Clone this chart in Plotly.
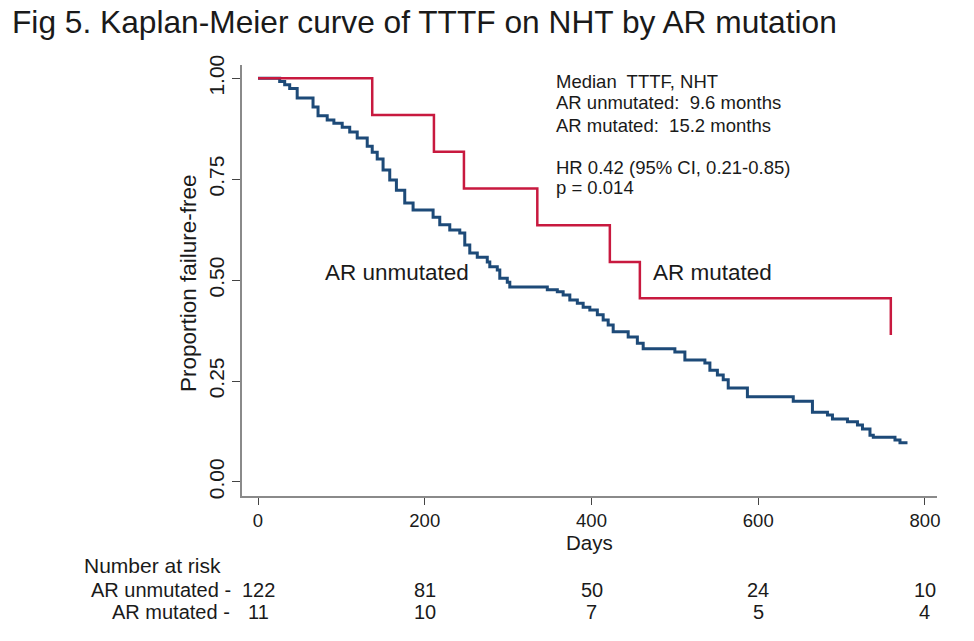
import plotly.graph_objects as go

# ---------------- data ----------------
unmut_days = [0, 26, 32, 38, 47, 66, 72, 83, 91, 101, 110, 119, 131, 137, 143, 150, 158, 166,
              176, 186, 210, 218, 230, 242, 248, 254, 263, 275, 278, 287, 290, 299, 302, 347,
              359, 366, 374, 383, 390, 398, 407, 414, 420, 426, 444, 455, 462, 500, 512, 536,
              542, 551, 558, 564, 587, 642, 665, 683, 689, 707, 719, 725, 734, 738, 764, 770, 779]
unmut_surv = [1.0, 0.992, 0.984, 0.975, 0.951, 0.929, 0.907, 0.897, 0.889, 0.879, 0.867, 0.852,
              0.832, 0.817, 0.800, 0.773, 0.748, 0.723, 0.691, 0.674, 0.656, 0.637, 0.624, 0.617,
              0.587, 0.567, 0.557, 0.545, 0.533, 0.525, 0.505, 0.495, 0.483, 0.476, 0.471, 0.463,
              0.451, 0.443, 0.433, 0.426, 0.414, 0.401, 0.389, 0.372, 0.359, 0.344, 0.330, 0.322,
              0.302, 0.295, 0.277, 0.265, 0.253, 0.233, 0.211, 0.200, 0.173, 0.166, 0.156, 0.149,
              0.141, 0.131, 0.116, 0.111, 0.104, 0.097, 0.097]

mut_days = [0, 137, 211, 247, 335, 422, 458, 759]
mut_surv = [1.0, 0.909, 0.818, 0.727, 0.636, 0.545, 0.455, 0.364]

risk_days = [0, 200, 400, 600, 800]
risk_unmut = [122, 81, 50, 24, 10]
risk_mut = [11, 10, 7, 5, 4]

y_ticks = [0.0, 0.25, 0.50, 0.75, 1.00]
y_ticklabels = ["0.00", "0.25", "0.50", "0.75", "1.00"]
x_ticks = [0, 200, 400, 600, 800]

stats_lines = ["Median\u00a0 TTTF, NHT",
               "AR unmutated:\u00a0 9.6 months",
               "AR mutated:\u00a0 15.2 months",
               "HR 0.42 (95% CI, 0.21-0.85)",
               "p = 0.014"]

# ---------------- layout geometry (pixels) ----------------
W, H = 974, 641
L, R, T, B = 242, 37, 65, 145
PW, PH = W - L - R, H - T - B


def px(p):
    return (p - L) / PW


def py(p):
    return (H - B - p) / PH


FONT = "Liberation Sans, Arial, sans-serif"
TXT = "#1a1a1a"
BLUE = "#1d4a78"
RED = "#c8193f"
RISK_SIZE = 20

fig = go.Figure()
fig.add_trace(go.Scatter(x=unmut_days, y=unmut_surv, mode="lines", line_shape="hv",
                         line=dict(color=BLUE, width=3), name="AR unmutated",
                         showlegend=False))
fig.add_trace(go.Scatter(x=mut_days, y=mut_surv, mode="lines", line_shape="hv",
                         line=dict(color=RED, width=2.5), name="AR mutated",
                         showlegend=False))

annotations = []
annotations.append(dict(text="Fig 5. Kaplan-Meier curve of TTTF on NHT by AR mutation",
                        xref="paper", yref="paper", x=px(10), y=py(22), xanchor="left",
                        yanchor="middle", showarrow=False,
                        font=dict(family=FONT, size=31.7, color=TXT)))
stat_y = [82, 103, 125, 167, 187]
for t, yy in zip(stats_lines, stat_y):
    annotations.append(dict(text=t, xref="paper", yref="paper", x=px(554), y=py(yy),
                            xanchor="left", yanchor="middle", showarrow=False,
                            font=dict(family=FONT, size=18.5, color=TXT)))
annotations.append(dict(text="AR unmutated", xref="paper", yref="paper", x=px(397), y=py(272),
                        xanchor="center", yanchor="middle", showarrow=False,
                        font=dict(family=FONT, size=22.5, color=TXT)))
annotations.append(dict(text="AR mutated", xref="paper", yref="paper", x=px(712), y=py(272),
                        xanchor="center", yanchor="middle", showarrow=False,
                        font=dict(family=FONT, size=22.5, color=TXT)))
annotations.append(dict(text="Proportion failure-free", xref="paper", yref="paper",
                        x=px(188), y=py(283), xanchor="center", yanchor="middle",
                        textangle=-90, showarrow=False,
                        font=dict(family=FONT, size=22.5, color=TXT)))
annotations.append(dict(text="Days", xref="paper", yref="paper", x=px(589), y=py(542),
                        xanchor="center", yanchor="middle", showarrow=False,
                        font=dict(family=FONT, size=20.5, color=TXT)))
annotations.append(dict(text="Number at risk", xref="paper", yref="paper", x=px(223), y=py(565),
                        xanchor="right", yanchor="middle", showarrow=False,
                        font=dict(family=FONT, size=RISK_SIZE + 1, color=TXT)))
annotations.append(dict(text="AR unmutated -", xref="paper", yref="paper", x=px(233), y=py(590),
                        xanchor="right", yanchor="middle", showarrow=False,
                        font=dict(family=FONT, size=RISK_SIZE, color=TXT)))
annotations.append(dict(text="AR mutated -", xref="paper", yref="paper", x=px(232), y=py(612),
                        xanchor="right", yanchor="middle", showarrow=False,
                        font=dict(family=FONT, size=RISK_SIZE, color=TXT)))
for d, n1, n2 in zip(risk_days, risk_unmut, risk_mut):
    annotations.append(dict(text=str(n1), xref="x", yref="paper", x=d, y=py(590),
                            xanchor="center", yanchor="middle", showarrow=False,
                            font=dict(family=FONT, size=RISK_SIZE, color=TXT)))
    annotations.append(dict(text=str(n2), xref="x", yref="paper", x=d, y=py(612),
                            xanchor="center", yanchor="middle", showarrow=False,
                            font=dict(family=FONT, size=RISK_SIZE, color=TXT)))

fig.update_layout(
    width=W, height=H,
    margin=dict(l=L, r=R, t=T, b=B, pad=0),
    paper_bgcolor="white", plot_bgcolor="white",
    annotations=annotations,
    showlegend=False,
)
fig.update_xaxes(range=[-19.2, 814.4], tickvals=x_ticks, ticks="outside", ticklen=7,
                 tickwidth=1.3, tickcolor="#444", showline=True, linecolor="#8a8a8a",
                 linewidth=2, showgrid=False, zeroline=False,
                 tickfont=dict(family=FONT, size=18.5, color=TXT))
fig.update_yaxes(range=[-0.0347, 1.033], tickvals=y_ticks, ticktext=y_ticklabels,
                 ticks="outside", ticklen=8, tickwidth=1.3, tickcolor="#444",
                 showline=True, linecolor="#8a8a8a", linewidth=2, showgrid=False,
                 zeroline=False, tickangle=-90,
                 tickfont=dict(family=FONT, size=21, color=TXT))

fig.write_html("out.html", config={"displayModeBar": False},
               post_script="document.body.style.margin='0';document.body.style.overflow='hidden';")
